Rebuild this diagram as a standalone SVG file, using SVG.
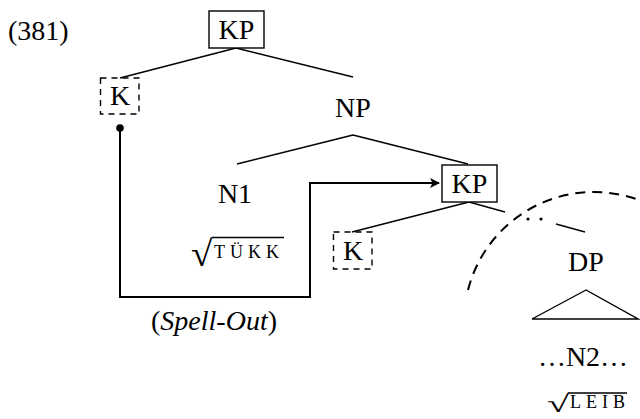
<svg xmlns="http://www.w3.org/2000/svg" width="640" height="419" viewBox="0 0 640 419">
<style>
.lb{font-size:28px;text-anchor:middle}
.sc{font-size:18px}
.rad{font-size:30px}
.tree{stroke:#000;stroke-width:1.4;fill:none}
.box{stroke:#000;stroke-width:1.4;fill:#fff}
.dbox{stroke:#000;stroke-width:1.4;fill:none;stroke-dasharray:6 5}
.so{stroke:#000;stroke-width:2;fill:none}
</style>
<defs>
<marker id="ah" markerWidth="10" markerHeight="10" refX="9" refY="5" orient="auto" markerUnits="userSpaceOnUse">
<path d="M0,0 L10,5 L0,10 L2.5,5 Z" fill="#000"/>
</marker>
</defs>
<text x="8" y="40" font-family="Liberation Serif" font-size="28">(381)</text>
<g id="connectors">
<path class="tree" d="M236,48 L120,78 M236,48 L353,77"/>
<path class="tree" d="M353,135 L237,164 M353,135 L468,164"/>
<path class="tree" d="M469,202 L352,232 M469,202 L505,212 M556,224 L585,232"/>
<circle cx="528" cy="219" r="1.6" fill="#000"/>
<circle cx="541" cy="219" r="1.6" fill="#000"/>
<path class="tree" d="M586,290 L532,319 L638,319 Z"/>
<path d="M468,290 A130,130 0 0 1 660,210" fill="none" stroke="#000" stroke-width="2" stroke-dasharray="10 7"/>
<circle cx="120" cy="128" r="3.8" fill="#000"/>
<path class="so" d="M120,128 L120,297 L310,297 L310,183 L439,183" marker-end="url(#ah)"/>
</g>
<g id="kp1">
<rect class="box" x="209" y="11" width="55" height="37"/>
<text class="lb" x="236.5" y="39" font-family="Liberation Serif">KP</text>
</g>
<g id="k1">
<rect class="dbox" x="100.5" y="78" width="38.5" height="36"/>
<text class="lb" x="120" y="105" font-family="Liberation Serif">K</text>
</g>
<g id="np">
<text class="lb" x="353" y="117" font-family="Liberation Serif">NP</text>
</g>
<g id="n1">
<text class="lb" x="235" y="203" font-family="Liberation Serif">N1</text>
</g>
<g id="tukk">
<text class="rad" transform="translate(191,266) scale(1.3,1.2)" font-family="Liberation Serif">√</text>
<line x1="212" y1="237.5" x2="284" y2="237.5" stroke="#000" stroke-width="1.6"/>
<text class="sc" x="214" y="257.5" textLength="65" lengthAdjust="spacing" font-family="Liberation Serif">TÜKK</text>
</g>
<g id="kp2">
<rect class="box" x="442" y="165" width="55" height="37"/>
<text class="lb" x="469.5" y="193" font-family="Liberation Serif">KP</text>
</g>
<g id="k2">
<rect class="dbox" x="333.5" y="232" width="38.5" height="37"/>
<text class="lb" x="353" y="260" font-family="Liberation Serif">K</text>
</g>
<g id="dp">
<text class="lb" x="586" y="271" font-family="Liberation Serif">DP</text>
</g>
<g id="n2">
<text class="lb" x="583" y="366" font-family="Liberation Serif">…N2…</text>
</g>
<g id="leib">
<text class="rad" transform="translate(547,412) scale(1.35,0.8)" font-family="Liberation Serif">√</text>
<line x1="568" y1="393" x2="627" y2="393" stroke="#000" stroke-width="1.6"/>
<text class="sc" x="570" y="408" textLength="55" lengthAdjust="spacing" font-family="Liberation Serif">LEIB</text>
</g>
<g id="spellout">
<text class="lb" x="214" y="330" font-family="Liberation Serif">(<tspan font-style="italic">Spell-Out</tspan>)</text>
</g>
</svg>
